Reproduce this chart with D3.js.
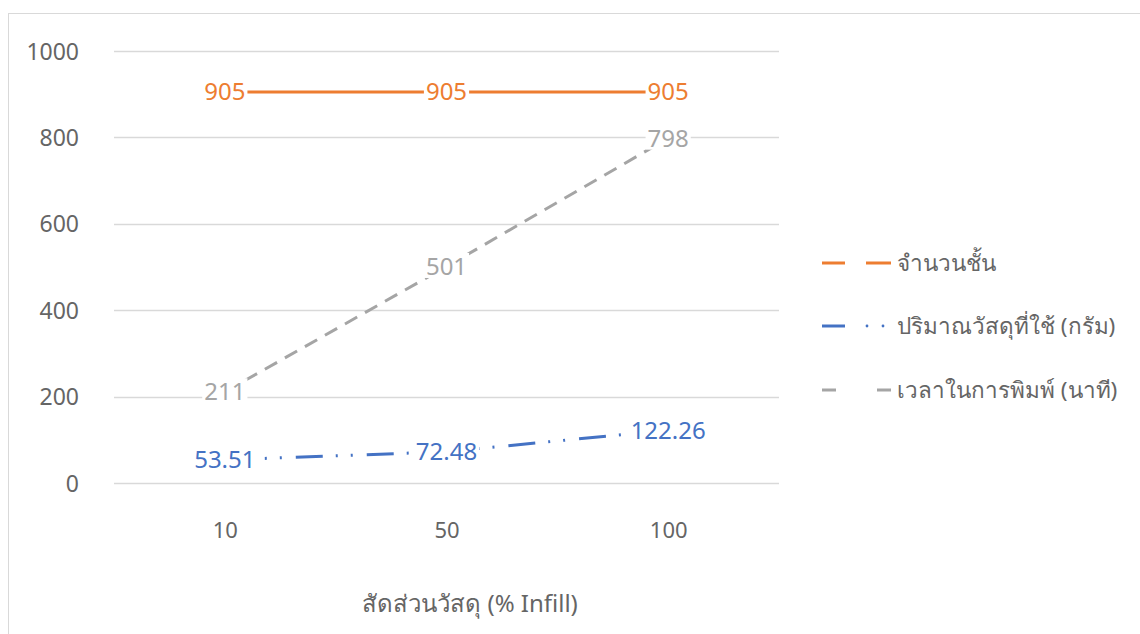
<!DOCTYPE html>
<html>
<head>
<meta charset="utf-8">
<script src="https://cdn.jsdelivr.net/npm/d3@7"></script>
<style>
  html, body { margin: 0; padding: 0; background: #fff; }
  svg { display: block; font-family: "Noto Sans", "Open Sans", sans-serif; }
</style>
</head>
<body>
<svg id="chart" width="1140" height="634"></svg>
<script>
// Infill percentages on the x axis
const categories = ["10", "50", "100"];
// Series values
const layers = [905, 905, 905];          // จำนวนชั้น
const material = [53.51, 72.48, 122.26]; // ปริมาณวัสดุที่ใช้ (กรัม)
const printTime = [211, 501, 798];       // เวลาในการพิมพ์ (นาที)
const seriesNames = ["จำนวนชั้น", "ปริมาณวัสดุที่ใช้ (กรัม)", "เวลาในการพิมพ์ (นาที)"];
const yTicks = [0, 200, 400, 600, 800, 1000];
const xTitle = "สัดส่วนวัสดุ (% Infill)";

const series = [
  { name: seriesNames[0], values: layers, color: "#ED7D31", dash: null, labelFmt: d => String(d) },
  { name: seriesNames[1], values: material, color: "#4472C4", dash: "27 13 2 13 2 14", labelFmt: d => d.toFixed(2) },
  { name: seriesNames[2], values: printTime, color: "#A5A5A5", dash: "14 9", labelFmt: d => String(d) }
];

const textGray = "#656565";
const svg = d3.select("#chart");

// Outer chart frame
svg.append("rect")
  .attr("x", 8.5).attr("y", 13.5)
  .attr("width", 1140).attr("height", 640)
  .attr("fill", "#fff").attr("stroke", "#d9d9d9").attr("stroke-width", 1);

const plot = { left: 114, right: 779, top: 51, bottom: 483 };

const x = d3.scalePoint().domain(categories).range([plot.left, plot.right]).padding(0.5);
const y = d3.scaleLinear().domain([0, 1000]).range([plot.bottom, plot.top]);

// Horizontal gridlines
svg.append("g").selectAll("line").data(yTicks).join("line")
  .attr("x1", plot.left).attr("x2", plot.right)
  .attr("y1", d => Math.round(y(d)) + 0.5).attr("y2", d => Math.round(y(d)) + 0.5)
  .attr("stroke", "#d9d9d9").attr("stroke-width", 1.3);

// Y axis labels
const yAxis = d3.axisLeft(y).tickValues(yTicks).tickFormat(d3.format("d")).tickSize(0).tickPadding(0);
svg.append("g")
  .attr("transform", "translate(79,0)")
  .call(yAxis)
  .call(g => g.select(".domain").remove())
  .call(g => g.selectAll("text")
    .attr("fill", textGray).attr("font-size", 23).attr("dy", "0.35em")
    .attr("font-family", "Noto Sans, sans-serif"));

// X axis labels
const xAxis = d3.axisBottom(x).tickSize(0).tickPadding(0);
svg.append("g")
  .attr("transform", "translate(0,530)")
  .call(xAxis)
  .call(g => g.select(".domain").remove())
  .call(g => g.selectAll("text")
    .attr("fill", textGray).attr("font-size", 22).attr("dy", "0.35em")
    .attr("font-family", "Noto Sans, sans-serif"));

// X axis title
svg.append("text")
  .attr("x", 470).attr("y", 604)
  .attr("text-anchor", "middle").attr("dy", "0.35em")
  .attr("fill", textGray).attr("font-size", 24)
  .text(xTitle);

// Lines
const line = d3.line().x((d, i) => x(categories[i])).y(d => y(d));
series.forEach(s => {
  svg.append("path")
    .datum(s.values)
    .attr("d", line)
    .attr("fill", "none")
    .attr("stroke", s.color)
    .attr("stroke-width", 3)
    .attr("stroke-dasharray", s.dash);
});

// Data labels with white backing boxes
series.forEach(s => {
  const g = svg.append("g");
  s.values.forEach((v, i) => {
    const lg = g.append("g").attr("transform", `translate(${x(categories[i])},${y(v)})`);
    const t = lg.append("text")
      .attr("text-anchor", "middle").attr("dy", "0.35em")
      .attr("fill", s.color).attr("font-size", 24)
      .text(s.labelFmt(v));
    const bb = t.node().getBBox();
    lg.insert("rect", "text")
      .attr("x", bb.x - 2).attr("y", bb.y + 4)
      .attr("width", bb.width + 4).attr("height", bb.height - 8)
      .attr("fill", "#fff");
  });
});

// Legend
const legendY = [263, 326, 390];
const legend = svg.append("g");
series.forEach((s, i) => {
  const ly = legendY[i];
  const g = legend.append("g");
  if (i === 0) {
    g.append("line").attr("x1", 822).attr("x2", 845).attr("y1", ly).attr("y2", ly)
      .attr("stroke", s.color).attr("stroke-width", 3);
    g.append("line").attr("x1", 866).attr("x2", 891).attr("y1", ly).attr("y2", ly)
      .attr("stroke", s.color).attr("stroke-width", 3);
  } else if (i === 1) {
    g.append("line").attr("x1", 822).attr("x2", 845).attr("y1", ly).attr("y2", ly)
      .attr("stroke", s.color).attr("stroke-width", 3);
    [867, 883].forEach(cx => g.append("circle").attr("cx", cx).attr("cy", ly).attr("r", 1.4).attr("fill", s.color));
  } else {
    g.append("line").attr("x1", 822).attr("x2", 836).attr("y1", ly).attr("y2", ly)
      .attr("stroke", s.color).attr("stroke-width", 3);
    g.append("line").attr("x1", 877).attr("x2", 891).attr("y1", ly).attr("y2", ly)
      .attr("stroke", s.color).attr("stroke-width", 3);
  }
  g.append("text")
    .attr("x", 897).attr("y", ly).attr("dy", "0.35em")
    .attr("fill", textGray).attr("font-size", 22.5)
    .text(s.name);
});
</script>
</body>
</html>
